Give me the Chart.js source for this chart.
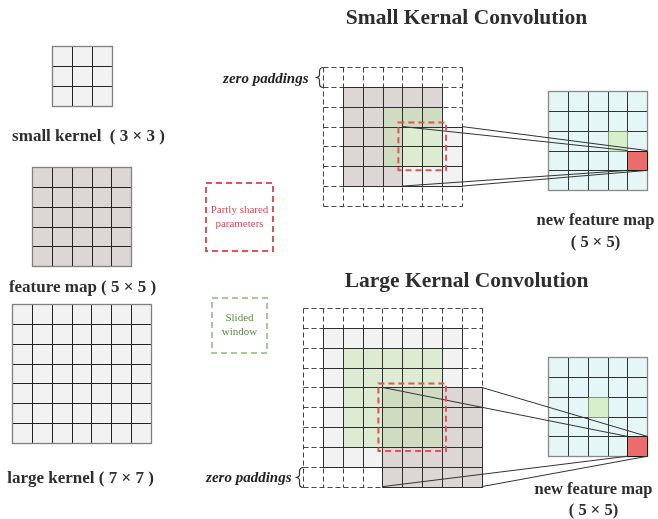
<!DOCTYPE html>
<html>
<head>
<meta charset="utf-8">
<script src="https://cdn.jsdelivr.net/npm/chart.js@4.4.0/dist/chart.umd.min.js"></script>
<style>
  body { margin: 0; background: #fff; }
  #wrap { width: 658px; height: 519px; position: relative; }
</style>
</head>
<body>
<div id="wrap"><canvas id="diagram"></canvas></div>
<script>
// ---- data (in cell units) ----
const sampleNames = ['small kernel  ( 3 × 3 )', 'feature map ( 5 × 5 )', 'large kernel ( 7 × 7 )'];
const sampleSizes = [3, 5, 7];
const sampleKinds = ['light', 'gray', 'light'];

const panelTitles = ['Small Kernal Convolution', 'Large Kernal Convolution'];
const paddedSizes = [7, 9];
// layers drawn in order: [kind, col, row, size]
const topLayers = [['gray', 1, 1, 5], ['light', 4, 3, 3], ['green', 3, 2, 3]];
const bottomLayers = [['light', 1, 1, 7], ['gray', 4, 4, 5], ['green', 2, 2, 5]];
const sharedCells = [[4, 3, 2], [4, 4, 3]];     // col, row, size
const linkFrom = [[4, 3, 3], [4, 4, 5]];        // region joined to the output cell
const outputSize = 5;
const outputWindow = [[3, 2], [2, 2]];
const outputCurrent = [[4, 3], [4, 4]];
const outputLabels = ['new feature map', '( 5 × 5)'];
const legendLabels = [['Partly shared', 'parameters'], ['Slided', 'window']];
const paddingLabel = 'zero paddings';

// ---- layout (pixel-sized data units) ----
const CELL = 19.85;
const sampleAt = [[52, 46], [32, 167], [12, 304]];
const sampleTextAt = [[88, 136], [82, 287], [80, 478]];
const paddedAt = [[323, 67], [303, 308]];
const outputAt = [[548, 91], [548, 357]];
const titleAt = [[466, 18], [466, 281]];
const outTextAt = [[595, 220, 242], [593, 489, 510]];
const legendBoxAt = [[206, 183, 273, 251], [212, 298, 267, 353]];
const paddingTextAt = [[308, 79], [291, 478]];

const fills = { light: '#f2f2f2', gray: '#dcd7d4', green: 'rgba(190,226,168,0.42)', cyan: '#e4f6f6' };
const SERIF = '"Liberation Serif", "DejaVu Serif", serif';

// connector lines from region corners to the current output cell
const panelLayers = [topLayers, bottomLayers];
const connectorSets = [];
for (let p = 0; p < 2; p++) {
  const [fc, fr, fs] = linkFrom[p];
  const [ox, oy] = paddedAt[p];
  const [qx, qy] = outputAt[p];
  const [cc, cr] = outputCurrent[p];
  const src = [[fc, fr], [fc + fs, fr], [fc, fr + fs], [fc + fs, fr + fs]];
  const dst = [[cc, cr], [cc + 1, cr], [cc, cr + 1], [cc + 1, cr + 1]];
  for (let k = 0; k < 4; k++) {
    connectorSets.push([
      { x: ox + src[k][0] * CELL, y: oy + src[k][1] * CELL },
      { x: qx + dst[k][0] * CELL, y: qy + dst[k][1] * CELL }
    ]);
  }
}

function drawDiagram(chart) {
  const ctx = chart.ctx;
  const xs = chart.scales.x, ys = chart.scales.y;
  const X = v => Math.round(xs.getPixelForValue(v)) + 0.5;
  const Y = v => Math.round(ys.getPixelForValue(v)) + 0.5;

  function grid(ox, oy, c0, r0, w, h, fill, dash, color, border) {
    const x0 = X(ox + c0 * CELL), y0 = Y(oy + r0 * CELL);
    const x1 = X(ox + (c0 + w) * CELL), y1 = Y(oy + (r0 + h) * CELL);
    if (fill) { ctx.fillStyle = fill; ctx.fillRect(x0, y0, x1 - x0, y1 - y0); }
    if (!color) return;
    ctx.save();
    ctx.strokeStyle = color; ctx.lineWidth = 1; ctx.setLineDash(dash || []);
    ctx.beginPath();
    for (let i = 0; i <= w; i++) { const x = X(ox + (c0 + i) * CELL); ctx.moveTo(x, y0); ctx.lineTo(x, y1); }
    for (let j = 0; j <= h; j++) { const y = Y(oy + (r0 + j) * CELL); ctx.moveTo(x0, y); ctx.lineTo(x1, y); }
    ctx.stroke();
    if (border) { ctx.strokeStyle = border; ctx.lineWidth = 1.3; ctx.strokeRect(x0, y0, x1 - x0, y1 - y0); }
    ctx.restore();
  }

  function text(str, x, y, font, color, align) {
    ctx.save();
    ctx.font = font; ctx.fillStyle = color || '#333';
    ctx.textAlign = align || 'center'; ctx.textBaseline = 'middle';
    ctx.fillText(str, X(x), Y(y));
    ctx.restore();
  }

  function brace(x, y0, y1) {
    const a = X(x), m = Y((y0 + y1) / 2), t = Y(y0), b = Y(y1);
    ctx.save();
    ctx.strokeStyle = '#333'; ctx.lineWidth = 1.2;
    ctx.beginPath();
    ctx.moveTo(a, t);
    ctx.quadraticCurveTo(a - 4, t, a - 4, t + 4);
    ctx.lineTo(a - 4, m - 3);
    ctx.quadraticCurveTo(a - 4, m, a - 8, m);
    ctx.quadraticCurveTo(a - 4, m, a - 4, m + 3);
    ctx.lineTo(a - 4, b - 4);
    ctx.quadraticCurveTo(a - 4, b, a, b);
    ctx.stroke();
    ctx.restore();
  }

  ctx.save();
  // left samples
  for (let i = 0; i < sampleSizes.length; i++) {
    const n = sampleSizes[i];
    grid(sampleAt[i][0], sampleAt[i][1], 0, 0, n, n, fills[sampleKinds[i]], null, '#222', '#808080');
    text(sampleNames[i], sampleTextAt[i][0], sampleTextAt[i][1], 'bold 17px ' + SERIF, '#2e2e2e');
  }

  // convolution panels
  for (let p = 0; p < 2; p++) {
    const [ox, oy] = paddedAt[p];
    const n = paddedSizes[p];
    text(panelTitles[p], titleAt[p][0], titleAt[p][1], 'bold 21.5px ' + SERIF, '#2e2e2e');
    for (const [kind, c, r, s] of panelLayers[p]) grid(ox, oy, c, r, s, s, fills[kind]);
    grid(ox, oy, 0, 0, n, n, null, [5, 3], '#444');
    for (const [kind, c, r, s] of panelLayers[p]) {
      if (kind !== 'green') grid(ox, oy, c, r, s, s, null, null, '#2e2e2e');
    }
    // output map
    const [qx, qy] = outputAt[p];
    grid(qx, qy, 0, 0, outputSize, outputSize, fills.cyan, null, '#333', '#888');
    grid(qx, qy, outputWindow[p][0], outputWindow[p][1], 1, 1, '#d8efcc');
    grid(qx, qy, outputCurrent[p][0], outputCurrent[p][1], 1, 1, '#ec6c6c', null, '#1a1a1a');
    text(outputLabels[0], outTextAt[p][0], outTextAt[p][1], 'bold 16.5px ' + SERIF, '#2e2e2e');
    text(outputLabels[1], outTextAt[p][0], outTextAt[p][2], 'bold 16.5px ' + SERIF, '#2e2e2e');
    text(paddingLabel, paddingTextAt[p][0], paddingTextAt[p][1], 'italic bold 15px ' + SERIF, '#222', 'right');
  }
  brace(paddedAt[0][0], paddedAt[0][1], paddedAt[0][1] + CELL);
  brace(paddedAt[1][0], paddedAt[1][1] + 8 * CELL, paddedAt[1][1] + 9 * CELL);
  ctx.restore();
}

function drawOverlays(chart) {
  const ctx = chart.ctx;
  const xs = chart.scales.x, ys = chart.scales.y;
  const X = v => xs.getPixelForValue(v), Y = v => ys.getPixelForValue(v);
  ctx.save();
  ctx.lineWidth = 2; ctx.setLineDash([6, 4]);
  // shared-parameter boxes around the overlap
  ctx.strokeStyle = '#e25454';
  for (let p = 0; p < 2; p++) {
    const [ox, oy] = paddedAt[p];
    const [c, r, s] = sharedCells[p];
    const x0 = X(ox + c * CELL) - 4, y0 = Y(oy + r * CELL) - 4;
    const x1 = X(ox + (c + s) * CELL) + 4, y1 = Y(oy + (r + s) * CELL) + 4;
    ctx.strokeRect(x0, y0, x1 - x0, y1 - y0);
  }
  // legend boxes
  const legendColors = [['#e25454', '#d85050'], ['#a9c99a', '#5d8a45']];
  for (let i = 0; i < 2; i++) {
    const [a, b, c, d] = legendBoxAt[i];
    ctx.strokeStyle = legendColors[i][0];
    ctx.strokeRect(X(a), Y(b), X(c) - X(a), Y(d) - Y(b));
    ctx.fillStyle = legendColors[i][1];
    ctx.font = '11px ' + SERIF; ctx.textAlign = 'center'; ctx.textBaseline = 'middle';
    const cx = X((a + c) / 2), cy = Y((b + d) / 2);
    ctx.fillText(legendLabels[i][0], cx, cy - 7);
    ctx.fillText(legendLabels[i][1], cx, cy + 7);
  }
  ctx.restore();
}

new Chart(document.getElementById('diagram').getContext('2d'), {
  type: 'scatter',
  data: {
    datasets: connectorSets.map(pts => ({
      data: pts,
      showLine: true,
      borderColor: '#333',
      borderWidth: 1,
      pointRadius: 0,
      fill: false
    }))
  },
  options: {
    responsive: true,
    maintainAspectRatio: false,
    animation: false,
    events: [],
    layout: { padding: 0 },
    scales: {
      x: { type: 'linear', min: 0, max: 658, display: false },
      y: { type: 'linear', min: 0, max: 519, reverse: true, display: false }
    },
    plugins: { legend: { display: false }, tooltip: { enabled: false } }
  },
  plugins: [{ id: 'diagram', beforeDatasetsDraw: drawDiagram, afterDatasetsDraw: drawOverlays }]
});
</script>
</body>
</html>
